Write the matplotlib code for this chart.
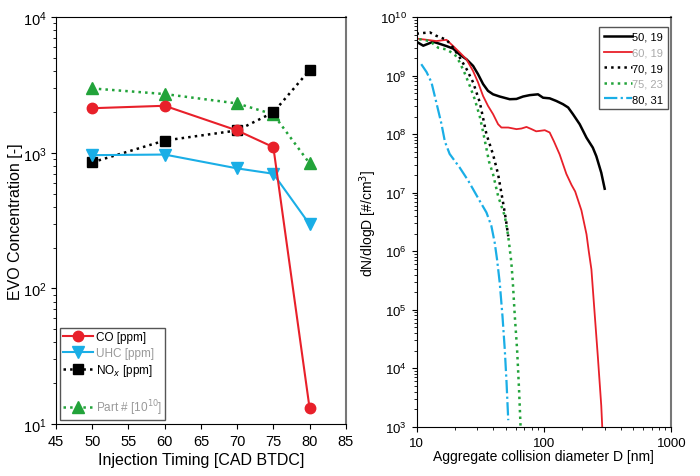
import matplotlib
matplotlib.use("Agg")
import matplotlib.pyplot as plt
from matplotlib.lines import Line2D

plt.rcParams['font.family'] = ['Liberation Sans', 'DejaVu Sans']

# left panel: emissions vs injection timing
timing = [50, 60, 70, 75, 80]
co = [2130, 2220, 1460, 1100, 13.1]
uhc = [960, 970, 767, 700, 297]
nox = [850, 1230, 1460, 1985, 4070]
part = [2980, 2710, 2310, 1920, 835]

# right panel: size distributions (D [nm], dN/dlogD)
d_50 = [10, 11.3, 12.3, 13.5, 15.2, 17.2, 19.4, 21.8, 24.7, 27.8, 30.4, 33.3, 36.4, 39.9, 45,
        53.9, 60.9, 68.6, 77.4, 89.9, 98.5, 111, 125, 141, 155, 169, 191, 216, 242, 258, 282, 300]
n_50 = [3.8e9, 3.25e9, 3.5e9, 3.8e9, 3.5e9, 3.2e9, 2.9e9, 2.3e9, 1.9e9, 1.47e9, 1.06e9, 7.2e8,
        5.5e8, 4.8e8, 4.4e8, 3.96e8, 4.0e8, 4.4e8, 4.65e8, 4.8e8, 4.2e8, 4.1e8, 3.7e8, 3.26e8,
        2.86e8, 2.2e8, 1.48e8, 8.7e7, 5.9e7, 4.2e7, 2.2e7, 1.17e7]
d_60 = [10, 12, 14.3, 17.2, 19.4, 21.8, 24.7, 27.8, 30.4, 33.3, 36.4, 39.9, 43.7, 46.4, 52.5,
        60.9, 66.6, 73, 80, 87, 93, 101.6, 111, 120, 133, 150, 165, 176, 197, 216, 225, 236, 251,
        265, 282, 287]
n_60 = [4.3e9, 4.1e9, 3.9e9, 4.1e9, 3.2e9, 2.5e9, 1.9e9, 1.2e9, 7.7e8, 4.5e8, 3.05e8, 2.2e8,
        1.48e8, 1.3e8, 1.3e8, 1.22e8, 1.25e8, 1.33e8, 1.22e8, 1.12e8, 1.14e8, 1.17e8, 1.07e8,
        7.5e7, 4.5e7, 2.1e7, 1.35e7, 1.05e7, 5.0e6, 1.95e6, 1.0e6, 4.9e5, 7.9e4, 1.6e4, 2.3e3, 1.0e3]
d_70 = [10, 12.7, 14.3, 17.2, 19.4, 21.8, 24.7, 27.8, 31.4, 35.4, 39.9, 43.7, 47.8, 50.3, 52.5]
n_70 = [5.2e9, 5.5e9, 4.8e9, 4.1e9, 3.0e9, 2.05e9, 1.3e9, 7.7e8, 3.5e8, 1.0e8, 4.5e7, 2.07e7,
        6.8e6, 3.5e6, 1.8e6]
d_75 = [10.5, 12.7, 14.8, 17.2, 20, 21.8, 23.9, 26.2, 28.6, 31.4, 33.3, 37.1, 39.9, 43.7, 49.3,
        52.5, 55.5, 57, 59.1, 61.6, 63.8, 65.6]
n_75 = [4.2e9, 3.9e9, 3.0e9, 2.8e9, 2.3e9, 1.7e9, 1.1e9, 6.7e8, 4.0e8, 2.0e8, 1.1e8, 3.4e7,
        2.07e7, 8.8e6, 4.0e6, 1.8e6, 6.5e5, 3.0e5, 7.8e4, 2.1e4, 4.4e3, 1.0e3]
d_80 = [10.9, 12, 13.1, 14.3, 15.7, 16.7, 18.2, 21.8, 25.5, 31.4, 35.4, 38.7, 41.1, 42.9, 45,
        47.3, 49.3, 50.9, 52.5]
n_80 = [1.57e9, 1.15e9, 7.7e8, 3.5e8, 1.5e8, 7.5e7, 4.6e7, 2.7e7, 1.6e7, 7.2e6, 4.6e6, 2.7e6,
        1.4e6, 7.2e5, 2.9e5, 7.8e4, 2.1e4, 5.8e3, 1.3e3]

red = '#e8202a'
blue = '#1aaee6'
green = '#22a33a'

fig = plt.figure(figsize=(7, 4.77), dpi=100)
ax1 = fig.add_axes([0.08, 0.109, 0.414, 0.853])
ax2 = fig.add_axes([0.595, 0.103, 0.364, 0.859])

# left
ax1.plot(timing, part, ':', color=green, lw=1.8, marker='^', ms=8.5, label='Part # [10$^{10}$]')
ax1.plot(timing, nox, ':', color='black', lw=1.8, marker='s', ms=7.5, label='NO$_x$ [ppm]')
ax1.plot(timing, uhc, '-', color=blue, lw=1.5, marker='v', ms=8.5, label='UHC [ppm]')
ax1.plot(timing, co, '-', color=red, lw=1.5, marker='o', ms=7.5, label='CO [ppm]')
ax1.set_yscale('log')
ax1.set_xlim(45, 85)
ax1.set_ylim(10, 1e4)
ax1.set_xticks(range(45, 90, 5))
ax1.tick_params(labelsize=10.5)
ax1.set_xlabel('Injection Timing [CAD BTDC]', fontsize=11.5, labelpad=3)
ax1.set_ylabel('EVO Concentration [-]', fontsize=11.5, labelpad=0)

h = {l.get_label(): l for l in ax1.get_lines()}
blank = Line2D([], [], linestyle='none')
leg1 = ax1.legend([h['CO [ppm]'], h['UHC [ppm]'], h['NO$_x$ [ppm]'], blank, h['Part # [10$^{10}$]']],
                  ['CO [ppm]', 'UHC [ppm]', 'NO$_x$ [ppm]', '', 'Part # [10$^{10}$]'],
                  loc='lower left', fontsize=8.5, fancybox=False, edgecolor='#555555',
                  handlelength=2.5, handletextpad=0.25, borderpad=0.3, labelspacing=0.3,
                  borderaxespad=0.3, framealpha=1)
for t, c in zip(leg1.get_texts(), ['black', '#999999', 'black', 'black', '#999999']):
    t.set_color(c)

# right
ax2.plot(d_50, n_50, '-', color='black', lw=1.8, label='50, 19')
ax2.plot(d_60, n_60, '-', color=red, lw=1.3, label='60, 19')
ax2.plot(d_70, n_70, ':', color='black', lw=1.8, label='70, 19')
ax2.plot(d_75, n_75, ':', color=green, lw=1.8, label='75, 23')
ax2.plot(d_80, n_80, color=blue, lw=1.6, dashes=(6, 1.5, 1, 1.5), label='80, 31')
ax2.set_xscale('log')
ax2.set_yscale('log')
ax2.set_xlim(10, 1000)
ax2.set_ylim(1e3, 1e10)
ax2.tick_params(labelsize=9.5)
ax2.set_xticks([10, 100, 1000])
ax2.set_xticklabels(['10', '100', '1000'])
ax2.set_xlabel('Aggregate collision diameter D [nm]', fontsize=10, labelpad=0)
ax2.set_ylabel('dN/dlogD [#/cm$^3$]', fontsize=10, labelpad=1)
leg2 = ax2.legend(loc='upper right', fontsize=8, fancybox=False, edgecolor='#555555',
                  handlelength=2.6, handletextpad=0.0, borderpad=0.45, labelspacing=0.5,
                  bbox_to_anchor=(0.989, 0.976), borderaxespad=0, framealpha=1)
for t, c in zip(leg2.get_texts(), ['black', '#aaaaaa', 'black', '#aaaaaa', 'black']):
    t.set_color(c)

for ax in (ax1, ax2):
    ax.tick_params(which='both', direction='out')
    for s in ax.spines.values():
        s.set_linewidth(0.8)
    ax.spines['right'].set_color('#777777')
    ax.spines['right'].set_linewidth(1.5)

fig.savefig('out.png', dpi=100)
